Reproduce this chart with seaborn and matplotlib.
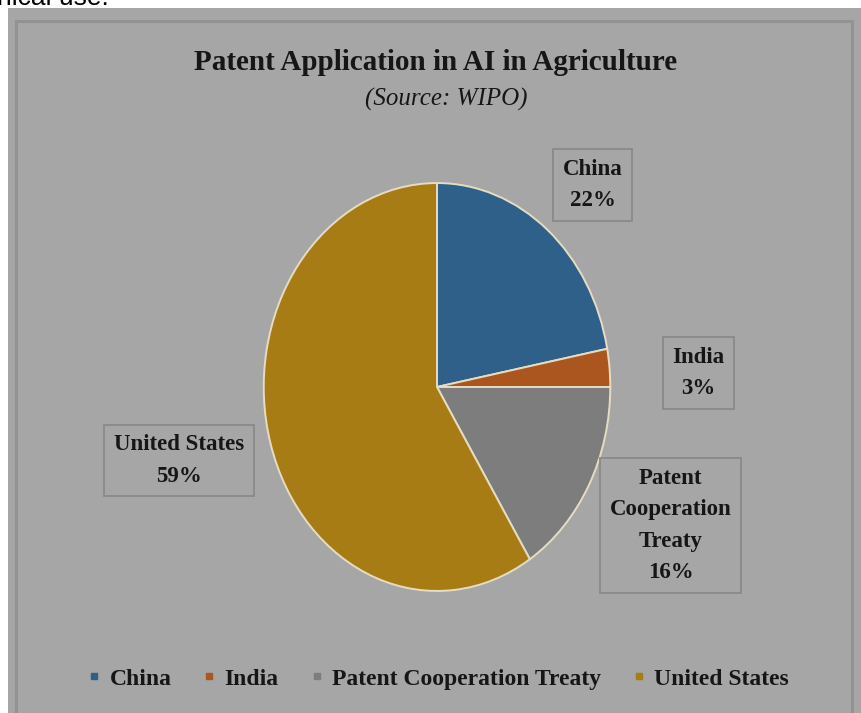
import matplotlib.lines as mlines
import matplotlib.patches as mpatches
import matplotlib.pyplot as plt
import seaborn as sns

# data
COUNTRIES = ["China", "India", "Patent Cooperation Treaty", "United States"]
SHARES = [22, 3, 16, 59]
BOX_LABELS = ["China\n22%", "India\n3%", "Patent\nCooperation\nTreaty\n16%", "United States\n59%"]

COLORS = ["#2e608a", "#aa561e", "#7d7d7d", "#a87c14"]
BG = "#a6a6a6"
INK = "#161616"

# label box centres, in pie data units
LABEL_POS = [(0.90, 0.99), (1.51, 0.07), (1.35, -0.68), (-1.49, -0.36)]

W, H = 861, 713


def fx(px):
    return px / W


def fy(py):
    return 1 - py / H


def main():
    sns.set_theme(style="white")
    plt.rcParams["font.family"] = ["Liberation Serif", "DejaVu Serif"]

    fig = plt.figure(figsize=(W / 100, H / 100), dpi=100, facecolor="white")

    # grey panel and its inner frame, kept behind the pie axes
    fig.patches.append(mpatches.Rectangle((fx(8), 0), 1 - fx(8), fy(8), transform=fig.transFigure,
                                          facecolor=BG, edgecolor="none", zorder=-2))
    fig.patches.append(mpatches.Rectangle((fx(16), -0.01), fx(852) - fx(16), fy(21) + 0.01,
                                          transform=fig.transFigure, fill=False,
                                          edgecolor="#929292", linewidth=2.2, zorder=-1))

    # clipped line of text from the page above
    fig.text(fx(-3), fy(5), "nical use.", family=["Liberation Sans", "DejaVu Sans"],
             fontsize=19, color="black", va="baseline", ha="left")

    fig.text(fx(436), fy(63), "Patent Application in AI in Agriculture", ha="center", va="center",
             fontsize=21, fontweight="bold", color=INK)
    fig.text(fx(446), fy(99), "(Source: WIPO)", ha="center", va="center",
             fontsize=18, style="italic", color=INK)

    # pie axes: the reference pie is stretched vertically, so no equal aspect
    ax = fig.add_axes([fx(262), fy(593), fx(612) - fx(262), (593 - 181) / H])
    ax.set_facecolor("none")
    ax.pie(SHARES, colors=COLORS, startangle=90, counterclock=False,
           wedgeprops=dict(edgecolor="#e6dcc2", linewidth=1.4))
    ax.set_aspect("auto")
    ax.set_xlim(-1.01, 1.01)
    ax.set_ylim(-1.01, 1.01)
    ax.axis("off")

    for text, (x, y) in zip(BOX_LABELS, LABEL_POS):
        ax.text(x, y, text, ha="center", va="center", fontsize=16.5, fontweight="bold",
                color=INK, linespacing=1.65,
                bbox=dict(boxstyle="square,pad=0.42", facecolor="none",
                          edgecolor="#8a8a8a", linewidth=1.3))

    handles = [mlines.Line2D([], [], marker="s", linestyle="", markersize=5, color=c)
               for c in COLORS]
    fig.legend(handles, COUNTRIES, loc="center", bbox_to_anchor=(fx(438), fy(679)), ncol=4,
               frameon=False, handlelength=0.6, handletextpad=0.35, columnspacing=1.3,
               prop=dict(weight="bold", size=17), labelcolor=INK)

    fig.savefig("out.png", dpi=100, facecolor="white")
    plt.close(fig)


if __name__ == "__main__":
    main()
